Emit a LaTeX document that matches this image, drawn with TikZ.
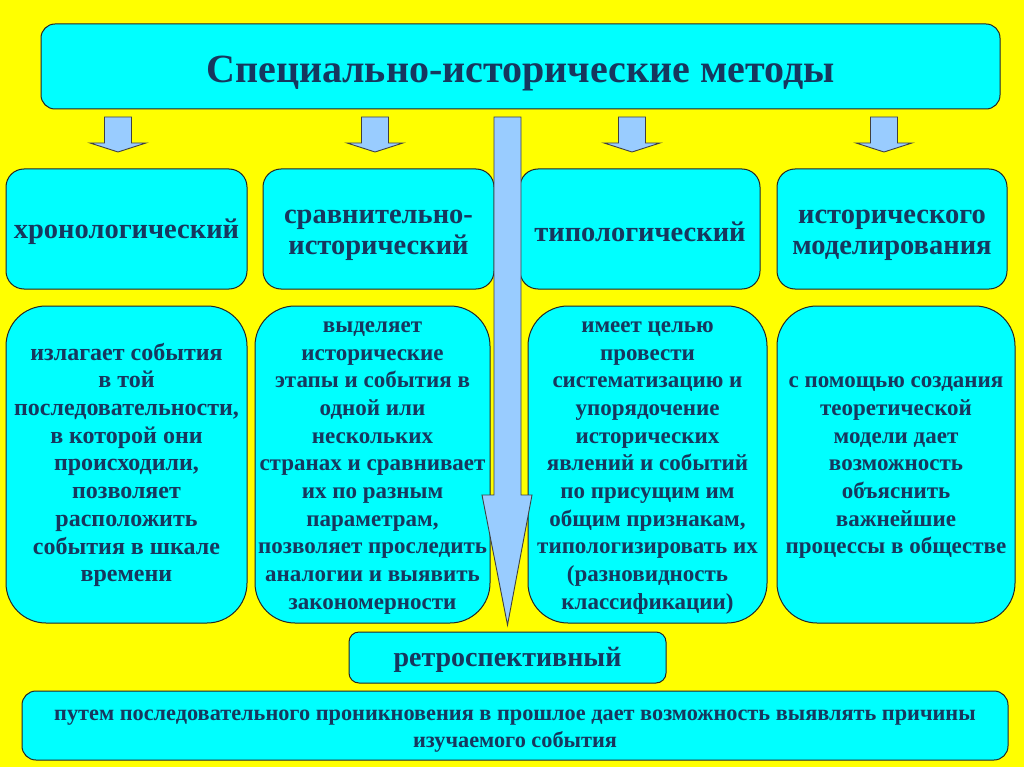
\documentclass[tikz,border=0pt]{standalone}
\usepackage{fontspec}
\setmainfont{Liberation Serif}
\newfontfamily\tnrfont{Liberation Serif}
\usetikzlibrary{calc}
\definecolor{bgyellow}{RGB}{255,255,0}
\definecolor{boxcyan}{RGB}{0,255,255}
\definecolor{txtnavy}{RGB}{23,55,94}
\definecolor{arrblue}{RGB}{153,204,255}
\begin{document}
\begin{tikzpicture}[x=1pt,y=-1pt,
  box/.style={draw=black!85, line width=1pt, fill=boxcyan, inner sep=0pt, outer sep=0pt,
    align=center, text=txtnavy},
  titlebox/.style={box, rounded corners=14pt, text height=41.5pt,
    font=\tnrfont\bfseries\fontsize{40}{46}\selectfont},
  headbox/.style={box, rounded corners=18pt, minimum height=120pt,
    font=\tnrfont\bfseries\fontsize{28.5}{31}\selectfont},
  descbox/.style={box, rounded corners=40pt, minimum height=317pt,
    font=\tnrfont\bfseries\fontsize{23}{27.7}\selectfont},
  retrobox/.style={box, rounded corners=10pt, text height=23.5pt,
    font=\tnrfont\bfseries\fontsize{28}{34}\selectfont},
  bottombox/.style={box, rounded corners=14pt,
    font=\tnrfont\bfseries\fontsize{22.3}{27}\selectfont},
  blockarrow/.style={draw=black!75, line width=0.9pt, fill=arrblue, line join=miter}
]
\fill[bgyellow] (0,0) rectangle (1024,767);
\useasboundingbox (0,0) rectangle (1024,767);

% title
\node[titlebox, minimum width=959pt, minimum height=85pt] (title) at (520.5,66.5)
  {Специально-исторические методы};

% small block arrows
\newcommand{\smallarrow}[1]{%
  \draw[blockarrow] (#1-13.5,117) -- (#1+13.5,117) -- (#1+13.5,143) -- (#1+28,143)
    -- (#1,152) -- (#1-28,143) -- (#1-13.5,143) -- cycle;}
\smallarrow{118}
\smallarrow{375}
\smallarrow{632}
\smallarrow{884}

% row 1
\node[headbox, minimum width=241pt, text height=25.5pt] (h1) at (126.5,229) {хронологический};
\node[headbox, minimum width=231pt, text height=56.5pt] (h2) at (378.5,229) {сравнительно-\\исторический};
\node[headbox, minimum width=240pt, text height=25.5pt] (h3) at (640,229) {типологический};
\node[headbox, minimum width=230pt, text height=56.5pt] (h4) at (892,229) {исторического\\моделирования};

% row 2
\node[descbox, minimum width=241pt, text height=239.6pt,
  font=\tnrfont\bfseries\fontsize{24}{27.7}\selectfont] (d1) at (126.5,464.5)
  {излагает события\\в той\\последовательности,\\в которой они\\происходили,\\позволяет\\расположить\\события в шкале\\времени};
\node[descbox, minimum width=235pt, text height=294.6pt] (d2) at (372.5,464.5)
  {выделяет\\исторические\\этапы и события в\\одной или\\нескольких\\странах и сравнивает\\их по разным\\параметрам,\\позволяет проследить\\аналогии и выявить\\закономерности};
\node[descbox, minimum width=239pt, text height=294.6pt] (d3) at (647.5,464.5)
  {имеет целью\\провести\\систематизацию и\\упорядочение\\исторических\\явлений и событий\\по присущим им\\общим признакам,\\типологизировать их\\(разновидность\\классификации)};
\node[descbox, minimum width=238pt, text height=183.8pt] (d4) at (896,464.5)
  {с помощью создания\\теоретической\\модели дает\\возможность\\объяснить\\важнейшие\\процессы в обществе};

% retrospective
\node[retrobox, minimum width=317pt, minimum height=51pt] (retro) at (507.5,657.5) {ретроспективный};
\node[bottombox, minimum width=986pt, minimum height=69pt, text height=49.5pt] (bottom) at (515,725.5)
  {путем последовательного проникновения в прошлое дает возможность выявлять причины\\изучаемого события};

% big arrow from title to retro
\draw[blockarrow] (494,117) -- (521,117) -- (521,495) -- (532,495) -- (507.5,625)
  -- (482,495) -- (494,495) -- cycle;
\end{tikzpicture}
\end{document}
